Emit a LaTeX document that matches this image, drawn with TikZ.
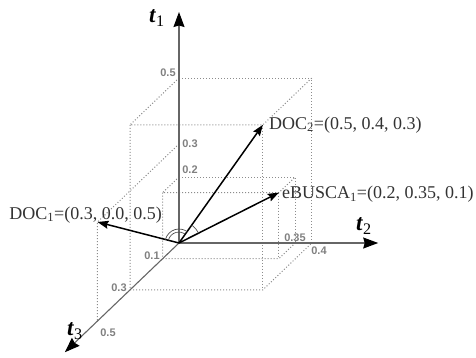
\documentclass[tikz,border=0pt]{standalone}
\usepackage{fontspec}
\setmainfont{Liberation Serif}
\setsansfont{Liberation Sans}
\usetikzlibrary{arrows.meta}

\begin{document}
\begin{tikzpicture}[
    x={(332pt,0pt)}, y={(0pt,330pt)}, z={(-163pt,-156pt)},
    axis/.style={draw=black!60, line width=1.1pt, -{Stealth[length=15pt,width=11pt,inset=1.5pt,black]}},
    vec/.style={draw=black, line width=1.5pt, -{Stealth[length=11pt,width=8pt,inset=1.5pt]}},
    guide/.style={draw=black!45, line width=1pt, dash pattern=on 1pt off 2pt},
    angarc/.style={draw=black!70, line width=0.7pt},
    num/.style={font=\sffamily\bfseries\fontsize{11}{11}\selectfont, text=black!50, inner sep=1pt},
    lbl/.style={font=\fontsize{18}{18}\selectfont, text=black!80, inner sep=0pt},
    axlbl/.style={font=\fontsize{23}{23}\selectfont, inner sep=0pt},
  ]
    \useasboundingbox (-179pt,-114pt) rectangle (297pt,243pt);

    % Angles of the three vectors (for the arcs)
    \def\angA{165.5}  % DOC_1
    \def\angB{54.6}   % DOC_2
    \def\angC{26.8}   % eBUSCA_1

    % === Points (t2, t1, t3) ===
    \coordinate (O) at (0,0,0);
    \coordinate (t1end) at (0,0.7,0);
    \coordinate (t2end) at (0.6,0,0);
    \coordinate (t3end) at (0,0,0.7);
    \coordinate (doc1) at (0,0.3,0.5);
    \coordinate (doc2) at (0.4,0.5,0.3);
    \coordinate (ebusca) at (0.35,0.2,0.1);

    % === Dotted guide boxes ===
    \foreach \a/\b/\c in {0.4/0.5/0.3, 0.35/0.2/0.1} {
      \draw[guide] (0,\b,0) -- (\a,\b,0) -- (\a,0,0);
      \draw[guide] (0,\b,0) -- (0,\b,\c) -- (\a,\b,\c) -- (\a,\b,0);
      \draw[guide] (0,\b,\c) -- (0,0,\c) -- (\a,0,\c) -- (\a,0,0);
      \draw[guide] (\a,\b,\c) -- (\a,0,\c);
    }
    \draw[guide] (0,0.3,0) -- (doc1) -- (0,0,0.5);

    % === Axes ===
    \draw[axis] (O) -- (t1end);
    \draw[axis] (O) -- (t2end);
    \draw[axis] (O) -- (t3end);
    \node[axlbl] (t1lbl) at (-22pt,225pt) {\textbf{\textit{t}}\textsubscript{1}};
    \node[axlbl] (t2lbl) at (185pt,17pt) {\textbf{\textit{t}}\textsubscript{2}};
    \node[axlbl] (t3lbl) at (-104pt,-88pt) {\textbf{\textit{t}}\textsubscript{3}};

    % tick values
    \node[num] (v1a) at (-11pt,170pt) {0.5};
    \node[num] (v1b) at (11pt,99pt) {0.3};
    \node[num] (v1c) at (11pt,73pt) {0.2};
    \node[num] (v3a) at (-27pt,-13pt) {0.1};
    \node[num] (v3b) at (-60pt,-45pt) {0.3};
    \node[num] (v3c) at (-71pt,-90pt) {0.5};
    \node[num] (v2a) at (116pt,5pt) {0.35};
    \node[num] (v2b) at (140pt,-8pt) {0.4};

    % === Vectors ===
    \draw[vec] (O) -- (doc1);
    \draw[vec] (O) -- (doc2);
    \draw[vec] (O) -- (ebusca);

    % angles between them
    \draw[angarc] (O) ++(\angA:11pt) arc[start angle=\angA, end angle=\angB, radius=11pt];
    \draw[angarc] (O) ++(\angA:14pt) arc[start angle=\angA, end angle=\angB, radius=14pt];
    \draw[angarc] (O) ++(\angB:22pt) arc[start angle=\angB, end angle=\angC, radius=22pt];

    % === Labels ===
    \node[lbl, anchor=east] (doc1lbl) at (-17pt,28pt) {DOC\textsubscript{1}=(0.3, 0.0, 0.5)};
    \node[lbl, anchor=west] (doc2lbl) at ([xshift=6pt]doc2) {DOC\textsubscript{2}=(0.5, 0.4, 0.3)};
    \node[lbl, anchor=west] (ebuscalbl) at ([xshift=3pt,yshift=-2pt]ebusca) {eBUSCA\textsubscript{1}=(0.2, 0.35, 0.1)};
  \end{tikzpicture}
\end{document}
